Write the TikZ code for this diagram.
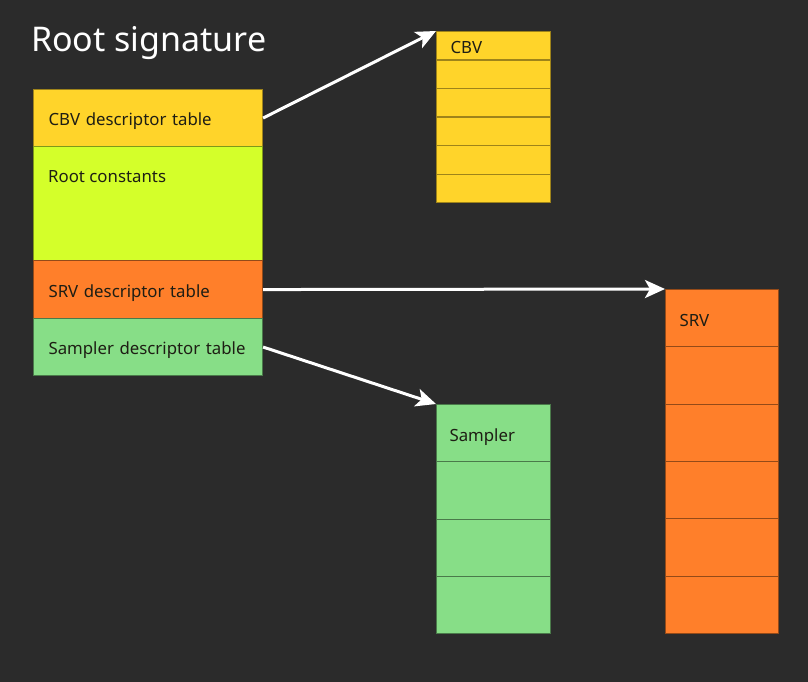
\documentclass[tikz,border=0pt]{standalone}
\usepackage{fontspec}
\setmainfont{Noto Sans}
\usetikzlibrary{arrows.meta}
\definecolor{bg}{HTML}{2B2B2B}
\definecolor{cbvY}{HTML}{FFD42A}
\definecolor{rcG}{HTML}{D4FF2A}
\definecolor{srvO}{HTML}{FF7F2A}
\definecolor{samG}{HTML}{87DE87}
\definecolor{txt}{HTML}{1E1E14}
\tikzset{
  lblfont/.style={font=\fontsize{16.8}{20}\selectfont, text=txt},
  cell/.style={rectangle, anchor=north west, inner xsep=15pt, inner ysep=0pt,
    text width=199pt, align=left, minimum width=229pt, line width=1.1pt,
    text height=15pt, text depth=0pt, lblfont},
  tcell/.style={rectangle, anchor=north west, inner xsep=14pt, inner ysep=0pt,
    text width=86pt, align=left, minimum width=114pt, line width=1.1pt,
    text height=15pt, text depth=0pt, lblfont},
  ycell/.style={fill=cbvY, draw=cbvY!62!black},
  lcell/.style={fill=rcG, draw=rcG!60!black},
  ocell/.style={fill=srvO, draw=srvO!58!black},
  gcell/.style={fill=samG, draw=samG!55!black},
  arr/.style={draw=white, line width=3pt, -{Stealth[length=20pt,width=18pt,inset=5pt]}},
}
\begin{document}
\begin{tikzpicture}[x=1pt,y=-1pt]
\useasboundingbox[fill=bg] (0,0) rectangle (808,682);
\node[anchor=base west, inner sep=0pt, text=white, font=\fontsize{34}{40}\selectfont] (title) at (31,52) {Root signature};
% root signature
\node[cell, ycell, minimum height=57pt] (rcbv) at (33,89) {CBV descriptor table};
\node[cell, lcell, minimum height=114pt] (rconst) at (33,146) {};
\node[anchor=base west, inner sep=0pt, lblfont] (rconstlbl) at (48,182) {Root constants};
\node[cell, ocell, minimum height=58pt] (rsrv) at (33,260) {SRV descriptor table};
\node[cell, gcell, minimum height=57pt] (rsam) at (33,318) {Sampler descriptor table};
% CBV table
\node[tcell, ycell, minimum height=28.5pt] (c1) at (436,31) {CBV};
\foreach \i/\y in {2/59.5,3/88,4/116.5,5/145,6/173.5}
  \node[tcell, ycell, minimum height=28.5pt] (c\i) at (436,\y) {};
% SRV table
\node[tcell, ocell, minimum height=57.33pt, text width=85pt, minimum width=113pt, text height=17pt] (s1) at (665,289) {SRV};
\foreach \i/\y in {2/346.33,3/403.67,4/461,5/518.33,6/575.67}
  \node[tcell, ocell, minimum height=57.33pt, text width=85pt, minimum width=113pt] (s\i) at (665,\y) {};
% Sampler table
\node[tcell, gcell, minimum height=57.25pt, inner xsep=13pt, text width=88pt, text height=17pt] (m1) at (436,404) {Sampler};
\foreach \i/\y in {2/461.25,3/518.5,4/575.75}
  \node[tcell, gcell, minimum height=57.25pt] (m\i) at (436,\y) {};
% arrows
\draw[arr] (rcbv.east) -- (c1.north west);
\draw[arr] (rsrv.east) -- (s1.north west);
\draw[arr] (rsam.east) -- (m1.north west);
\end{tikzpicture}
\end{document}
